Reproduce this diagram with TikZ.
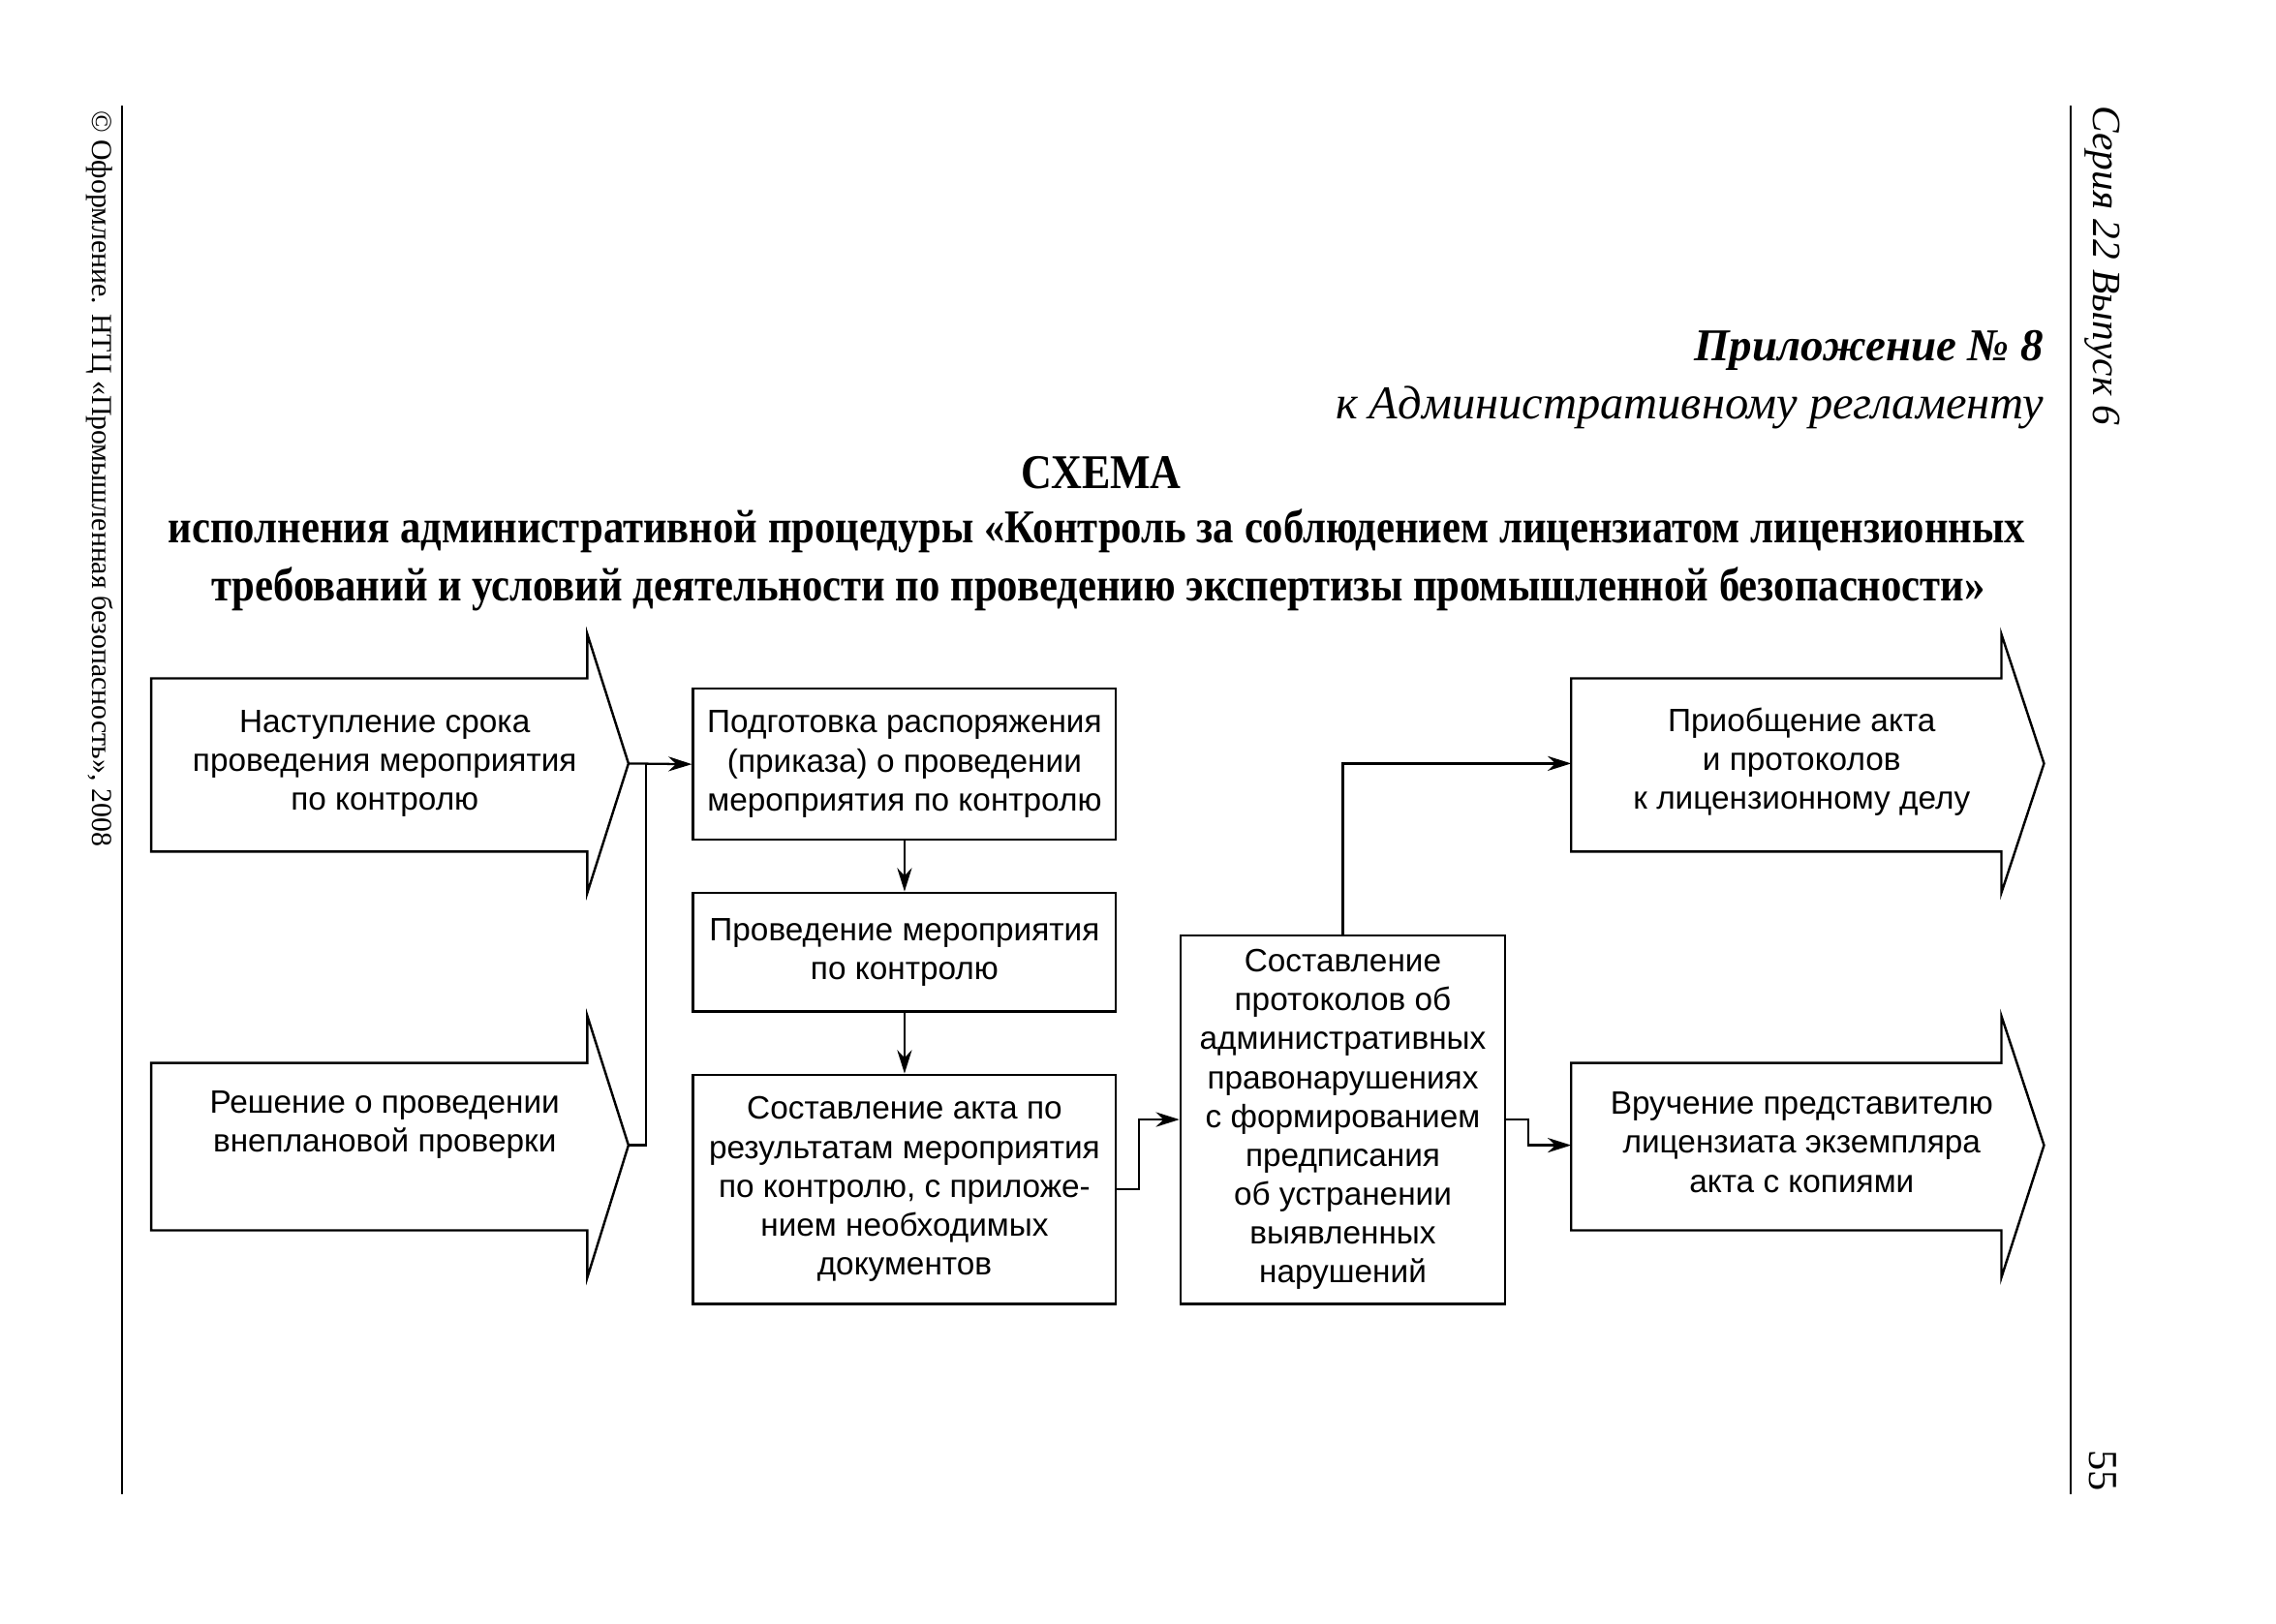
\documentclass[tikz,border=0pt]{standalone}
\usepackage{fontspec}
\setmainfont{Liberation Serif}
\newfontfamily\boxfont{Liberation Sans}
\newfontfamily\titlefont[FakeStretch=0.88]{Liberation Serif}
\usetikzlibrary{arrows.meta}
\begin{document}
\begin{tikzpicture}[x=1pt,y=-1pt,
  line/.style={line width=1.6pt},
  conn/.style={line width=1.5pt},
  arr/.style={conn,-{Stealth[length=16pt,width=10pt]}},
  txt/.style={align=center,font=\boxfont\fontsize{22}{26.5}\selectfont,inner sep=0pt},
  stepbox/.style={txt,draw,line width=1.6pt,minimum width=288pt}]
\useasboundingbox (0,0) rectangle (1550,1106);
\fill[white] (0,0) rectangle (1550,1106);

% margins
\draw[line width=1.4pt] (83,72) -- (83,1018);
\draw[line width=1.4pt] (1410,72) -- (1410,1018);
\node[rotate=-90,anchor=west,font=\fontsize{19.7}{22}\selectfont,inner sep=0] (m1) at (68,75) {© Оформление. НТЦ «Промышленная безопасность», 2008};
\node[rotate=-90,anchor=west,font=\itshape\fontsize{27.3}{32}\selectfont,inner sep=0] (s1) at (1432,72) {Серия 22 Выпуск 6};
\node[rotate=-90,anchor=east,font=\fontsize{28}{32}\selectfont,inner sep=0] (p55) at (1432,1016) {55};

% header
\node[anchor=base east,font=\bfseries\itshape\fontsize{31}{36}\selectfont,inner sep=0] (h1) at (1392,246) {Приложение №~8};
\node[anchor=base east,font=\itshape\fontsize{32}{36}\selectfont,inner sep=0] (h2) at (1392,285) {к Административному регламенту};
\node[anchor=base,font=\titlefont\bfseries\fontsize{33}{40}\selectfont,inner sep=0] (t0) at (750,333) {СХЕМА};
\node[anchor=base,font=\titlefont\bfseries\fontsize{32}{39}\selectfont,inner sep=0] (t1) at (747,370) {исполнения административной процедуры «Контроль за соблюдением лицензиатом лицензионных};
\node[anchor=base,font=\titlefont\bfseries\fontsize{32}{39}\selectfont,inner sep=0] (t2) at (748,409) {требований и условий деятельности по проведению экспертизы промышленной безопасности»};

% left arrows
\node[txt] (a1) at (262,520) {Наступление срока\\проведения мероприятия\\по контролю};
\draw[line] (103,462) -- (400,462) -- (400,432) -- (428,520) coordinate (a1tip) -- (400,608) -- (400,580) -- (103,580) -- cycle;
\node[txt] (a2) at (262,766) {Решение о проведении\\внеплановой проверки};
\draw[line] (103,724) -- (400,724) -- (400,692) -- (428,780) coordinate (a2tip) -- (400,870) -- (400,838) -- (103,838) -- cycle;

% middle boxes
\node[stepbox,minimum height=103pt] (b1) at (616,520.5) {Подготовка распоряжения\\(приказа) о проведении\\мероприятия по контролю};
\node[stepbox,minimum height=81pt] (b2) at (616,648.5) {Проведение мероприятия\\по контролю};
\node[stepbox,minimum height=156pt] (b3) at (616,810) {Составление акта по\\результатам мероприятия\\по контролю, с приложе-\\нием необходимых\\документов};
\node[stepbox,minimum width=221pt,minimum height=251pt] (b4) at (914.5,762.5) {Составление\\протоколов об\\административных\\правонарушениях\\с формированием\\предписания\\об устранении\\выявленных\\нарушений};

% right arrows
\node[txt] (r1) at (1227,519) {Приобщение акта\\и протоколов\\к лицензионному делу};
\draw[line] (1070,462) -- (1363,462) -- (1363,432) -- (1392,520) -- (1363,608) -- (1363,580) -- (1070,580) -- cycle;
\coordinate (r1in) at (1070,520);
\node[txt] (r2) at (1227,778) {Вручение представителю\\лицензиата экземпляра\\акта с копиями};
\draw[line] (1070,724) -- (1363,724) -- (1363,692) -- (1392,780) -- (1363,870) -- (1363,838) -- (1070,838) -- cycle;
\coordinate (r2in) at (1070,780);

% connectors
\coordinate (bus) at (440,520);
\draw[conn] (a2tip) -| (bus);
\draw[arr] (a1tip) -- (b1.west);
\draw[arr] (b1.south) -- (b2.north);
\draw[arr] (b2.south) -- (b3.north);
\draw[arr] (b3.east) -- ++(15,0) |- (b4.west);
\draw[arr] (b4.north) |- (r1in);
\draw[arr] (b4.east) -- ++(15,0) |- (r2in);
\end{tikzpicture}
\end{document}
